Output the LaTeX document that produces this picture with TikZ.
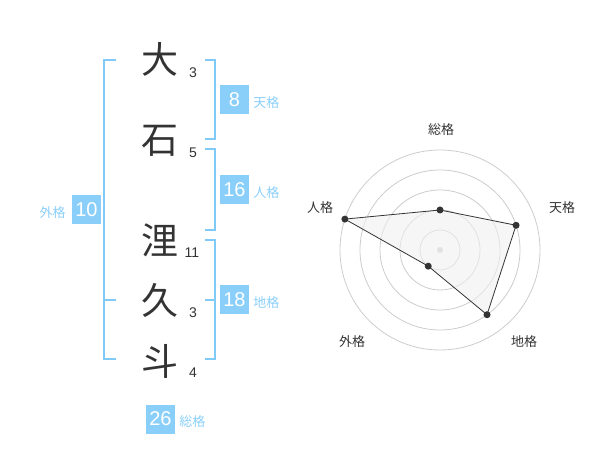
\documentclass[tikz,border=0pt]{standalone}
\usepackage{fontspec}
\setmainfont{Liberation Sans}
\newfontfamily\jp{Noto Sans CJK JP}
\usetikzlibrary{positioning}
\definecolor{kakublue}{HTML}{8ACFFA}
\definecolor{kakuline}{HTML}{7FCAF7}
\definecolor{inkgray}{HTML}{333333}
\definecolor{ringgray}{HTML}{CCCCCC}

\begin{document}
\begin{tikzpicture}[x=1pt, y=-1pt]

    \tikzstyle{kanji} = [
        text=inkgray,
        inner sep=0,
        font=\jp\fontsize{37}{37}\selectfont
    ]
    \tikzstyle{kakusu} = [
        text=inkgray,
        inner sep=0,
        font=\fontsize{14}{14}\selectfont
    ]
    \tikzstyle{suuchi} = [
        rectangle,
        fill=kakublue,
        text=white,
        minimum size=29pt,
        inner sep=0,
        font=\fontsize{20}{20}\selectfont
    ]
    \tikzstyle{kaku} = [
        text=kakublue,
        inner sep=0,
        font=\jp\fontsize{13}{13}\selectfont
    ]
    \tikzstyle{kakko} = [
        draw=kakuline,
        line width=2pt
    ]
    \tikzstyle{ring} = [
        draw=ringgray,
        line width=0.8pt
    ]
    \tikzstyle{ten} = [
        fill=inkgray
    ]
    \tikzstyle{jiku} = [
        text=inkgray,
        inner sep=0,
        font=\jp\fontsize{13}{13}\selectfont
    ]

    \useasboundingbox (0,0) rectangle (600,470);

    % name characters and stroke counts
    \node [kanji] (c1) at (160,59)  {大};
    \node [kanji] (c2) at (160,141) {石};
    \node [kanji] (c3) at (160,240) {浬};
    \node [kanji] (c4) at (160,300) {久};
    \node [kanji] (c5) at (160,361) {斗};

    \node [kakusu] (n1) at (193,73)  {3};
    \node [kakusu] (n2) at (193,153) {5};
    \node [kakusu] (n3) at (192,253) {11};
    \node [kakusu] (n4) at (193,313) {3};
    \node [kakusu] (n5) at (193,373) {4};

    % brackets
    \draw [kakko] (116,60) -- (104,60) -- (104,359) -- (116,359);
    \draw [kakko] (104,300) -- (116,300);
    \draw [kakko] (205,60) -- (215,60) -- (215,139) -- (205,139);
    \draw [kakko] (205,149) -- (215,149) -- (215,230) -- (205,230);
    \draw [kakko] (205,240) -- (215,240) -- (215,359) -- (205,359);
    \draw [kakko] (205,300) -- (215,300);

    % values
    \node [suuchi] (tenkaku) at (234.5,100)  {8};
    \node [suuchi] (jinkaku) at (234.5,190)  {16};
    \node [suuchi] (chikaku) at (234.5,300)  {18};
    \node [suuchi] (gaikaku) at (86.5,210)   {10};
    \node [suuchi] (soukaku) at (160.5,419)  {26};

    \node [kaku, right=4pt of tenkaku, yshift=-3pt] (l-ten)  {天格};
    \node [kaku, right=4pt of jinkaku, yshift=-3pt] (l-jin)  {人格};
    \node [kaku, right=4pt of chikaku, yshift=-3pt] (l-chi)  {地格};
    \node [kaku, left=6pt of gaikaku, yshift=-3pt]  (l-gai)  {外格};
    \node [kaku, right=4pt of soukaku, yshift=-3pt] (l-sou)  {総格};

    % radar chart
    \begin{scope}[shift={(440,250)}, y=1pt]
        \foreach \r in {20,40,60,80,100}
            \draw [ring] (0,0) circle (\r pt);
        \fill [ringgray] (0,0) circle (3pt);

        \coordinate (p-sou) at (90:40);
        \coordinate (p-ten) at (18:80);
        \coordinate (p-chi) at (-54:80);
        \coordinate (p-gai) at (-126:20);
        \coordinate (p-jin) at (162:100);

        \draw [inkgray, line width=0.8pt, fill=gray!12, fill opacity=0.6]
            (p-sou) -- (p-ten) -- (p-chi) -- (p-gai) -- (p-jin) -- cycle;

        \foreach \p in {sou,ten,chi,gai,jin}
            \fill [ten] (p-\p) circle (3.5pt);
    \end{scope}

    \node [jiku] (a-sou) at (441,130) {総格};
    \node [jiku] (a-ten) at (562,208) {天格};
    \node [jiku] (a-chi) at (524,342) {地格};
    \node [jiku] (a-gai) at (352,342) {外格};
    \node [jiku] (a-jin) at (320,208) {人格};

\end{tikzpicture}
\end{document}
